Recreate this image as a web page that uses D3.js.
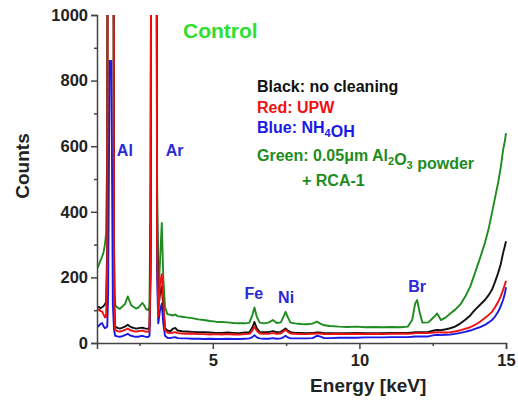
<!DOCTYPE html>
<html>
<head>
<meta charset="utf-8">
<script src="https://cdn.jsdelivr.net/npm/d3@7"></script>
<style>
  body { margin: 0; background: #fff; }
  svg text { font-family: "Liberation Sans", Arial, sans-serif; font-weight: bold; }
</style>
</head>
<body>
<svg width="518" height="406"></svg>
<script>
// energy axis (keV) shared by all spectra
var energy = [1.07, 1.12, 1.17, 1.22, 1.27, 1.32, 1.36, 1.40, 1.43, 1.48, 1.54, 1.59, 1.63, 1.67, 1.75, 1.83, 1.92, 2.00, 2.06, 2.10,
  2.15, 2.22, 2.30, 2.38, 2.46, 2.53, 2.60, 2.66, 2.72, 2.79, 2.84, 2.88, 2.92, 3.06, 3.10, 3.14, 3.20, 3.26, 3.31, 3.37,
  3.45, 3.55, 3.65, 3.72, 3.80, 3.95, 4.10, 4.30, 4.50, 4.70, 4.90, 5.10, 5.30, 5.50, 5.70, 5.90, 6.10, 6.25, 6.35, 6.42,
  6.50, 6.60, 6.75, 6.90, 7.05, 7.18, 7.32, 7.42, 7.48, 7.56, 7.65, 7.80, 8.00, 8.20, 8.40, 8.55, 8.65, 8.80, 9.00, 9.30,
  9.60, 9.90, 10.20, 10.50, 10.80, 11.10, 11.40, 11.65, 11.80, 11.90, 11.97, 12.05, 12.15, 12.35, 12.55, 12.65, 12.78, 12.95, 13.10, 13.26,
  13.45, 13.60, 13.78, 13.94, 14.10, 14.28, 14.40, 14.52, 14.62, 14.73, 14.82, 14.90, 14.96, 15.00];

var greenCounts = [229, 240, 252, 262, 275, 300, 335, 600, 3000, 3000, 3000, 3000, 300, 115, 108, 104, 112, 118, 132, 142,
  130, 115, 110, 105, 108, 115, 122, 115, 104, 100, 110, 500, 3000, 3000, 500, 140, 250, 366, 200, 110,
  88, 86, 84, 87, 82, 80, 78, 76, 72, 70, 67, 65, 64, 63, 61, 60, 60, 62, 85, 108,
  80, 62, 60, 62, 70, 61, 63, 82, 95, 78, 62, 60, 58, 57, 59, 65, 60, 54, 52, 50,
  49, 50, 48, 49, 48, 49, 48, 50, 70, 120, 131, 95, 62, 63, 80, 90, 70, 78, 90, 101,
  118, 140, 172, 213, 255, 305, 345, 396, 440, 488, 535, 588, 615, 640];

var blackCounts = [108, 110, 106, 109, 112, 118, 125, 300, 3000, 3000, 3000, 3000, 150, 50, 46, 44, 47, 50, 53, 56,
  52, 48, 46, 44, 45, 46, 47, 45, 44, 43, 48, 300, 3000, 3000, 400, 110, 150, 172, 110, 45,
  38, 36, 44, 46, 38, 36, 35, 34, 33, 33, 32, 31, 31, 32, 31, 30, 32, 33, 48, 64,
  45, 34, 33, 33, 36, 33, 34, 40, 44, 38, 33, 31, 31, 30, 31, 32, 32, 30, 30, 30,
  30, 31, 30, 30, 30, 31, 31, 31, 32, 33, 33, 33, 33, 34, 38, 40, 39, 42, 45, 50,
  60, 70, 84, 101, 115, 131, 145, 162, 185, 213, 240, 274, 295, 310];

var redCounts = [100, 102, 97, 96, 88, 78, 80, 250, 3000, 3000, 3000, 3000, 120, 40, 36, 35, 37, 40, 42, 44,
  41, 38, 36, 35, 36, 37, 38, 36, 35, 34, 38, 280, 3000, 3000, 300, 80, 180, 210, 130, 40,
  32, 30, 32, 33, 30, 29, 28, 29, 27, 27, 26, 27, 26, 27, 26, 26, 27, 28, 38, 50,
  37, 29, 28, 28, 30, 28, 29, 36, 40, 34, 29, 28, 27, 27, 28, 29, 29, 27, 27, 28,
  27, 28, 27, 28, 27, 28, 28, 28, 29, 30, 30, 30, 30, 30, 32, 33, 32, 32, 33, 35,
  39, 43, 48, 55, 64, 76, 85, 95, 108, 125, 142, 162, 178, 190];

var blueCounts = [50, 53, 58, 61, 52, 45, 47, 50, 150, 860, 860, 120, 40, 22, 20, 19, 21, 24, 26, 28,
  25, 22, 20, 19, 19, 21, 22, 20, 19, 18, 22, 200, 3000, 3000, 200, 60, 100, 120, 60, 22,
  16, 15, 17, 18, 15, 14, 14, 13, 13, 12, 13, 12, 12, 13, 12, 12, 13, 14, 18, 24,
  17, 14, 13, 13, 15, 13, 14, 18, 22, 17, 14, 14, 14, 14, 15, 22, 20, 15, 15, 16,
  16, 16, 17, 17, 17, 18, 18, 18, 19, 20, 20, 20, 20, 20, 24, 25, 24, 25, 26, 28,
  31, 34, 38, 43, 48, 55, 62, 70, 80, 95, 112, 131, 150, 170];

// drawing order: green at the bottom, red on top
var seriesNames = ["green", "blue", "black", "red"];
var seriesColors = ["#1e8c1e", "#1a1ae8", "#111111", "#ee1111"];
var seriesValues = [greenCounts, blueCounts, blackCounts, redCounts];

var xTicks = [5, 10, 15];
var xMinorTicks = [2.5, 7.5, 12.5];
var yTicks = [0, 200, 400, 600, 800, 1000];
var yMinorTicks = [100, 300, 500, 700, 900];

// peak annotations
var peakNames = ["Al", "Ar", "Fe", "Ni", "Br"];
var peakEnergy = [2.0, 3.7, 6.4, 7.5, 11.97];
var peakCounts = [570, 570, 135, 123, 157];

var legendLines = ["Black: no cleaning", "Red: UPW", "Blue: NH4OH", "Green: 0.05μm Al2O3 powder", "+ RCA-1"];

window.onload = function() {
    makeChart();
}

function makeChart() {
    var svg = d3.select("svg");

    var margin = { top: 15, right: 12, bottom: 63, left: 97 };
    var width = +svg.attr("width") - margin.left - margin.right;
    var height = +svg.attr("height") - margin.top - margin.bottom;

    var g = svg.append("g")
        .attr("transform", "translate(" + margin.left + "," + margin.top + ")");

    var x = d3.scaleLinear().domain([1.05, 15]).range([0, width]);
    var y = d3.scaleLinear().domain([0, 1000]).range([height, 0]);

    g.append("clipPath").attr("id", "plot-clip")
        .append("rect").attr("x", 0).attr("y", 0).attr("width", width + 2).attr("height", height);

    var line = d3.line()
        .x(function(d) { return x(d[0]); })
        .y(function(d) { return y(d[1]); });

    seriesValues.forEach(function(vals, i) {
        var pts = energy.map(function(e, j) { return [e, vals[j]]; });
        g.append("path")
            .datum(pts)
            .attr("class", "spectrum " + seriesNames[i])
            .attr("clip-path", "url(#plot-clip)")
            .attr("fill", "none")
            .attr("stroke", seriesColors[i])
            .attr("stroke-width", 1.9)
            .attr("stroke-linejoin", "round")
            .attr("d", line);
    });

    // axes
    var axisColor = "#444";
    g.append("g")
        .attr("transform", "translate(0," + height + ")")
        .call(d3.axisBottom(x).tickValues(xTicks).tickSize(6).tickPadding(5).tickFormat(d3.format("d")));
    g.append("g")
        .attr("transform", "translate(0," + height + ")")
        .call(d3.axisBottom(x).tickValues(xMinorTicks).tickSize(3).tickFormat(""))
        .select(".domain").remove();

    g.append("g")
        .call(d3.axisLeft(y).tickValues(yTicks).tickSize(6).tickPadding(3).tickFormat(d3.format("d")));
    g.append("g")
        .call(d3.axisLeft(y).tickValues(yMinorTicks).tickSize(3).tickFormat(""))
        .select(".domain").remove();

    g.selectAll(".domain, .tick line").attr("stroke", axisColor).attr("stroke-width", 1.5);
    g.selectAll(".tick text")
        .attr("fill", "#222")
        .style("font-size", "16.5px")
        .style("font-weight", "bold")
        .style("font-family", "'Liberation Sans', Arial, sans-serif");

    // axis titles
    svg.append("text")
        .attr("x", margin.left + x(10.3))
        .attr("y", 392)
        .attr("text-anchor", "middle")
        .attr("fill", "#222")
        .style("font-size", "19px")
        .text("Energy [keV]");

    svg.append("text")
        .attr("transform", "translate(29,166) rotate(-90)")
        .attr("text-anchor", "middle")
        .attr("fill", "#222")
        .style("font-size", "19px")
        .text("Counts");

    // title
    svg.append("text")
        .attr("x", 183)
        .attr("y", 38)
        .attr("fill", "#2ee02e")
        .style("font-size", "21px")
        .text("Control");

    // peak labels
    g.selectAll(".peak")
        .data(peakNames)
        .enter().append("text")
        .attr("class", "peak")
        .attr("x", function(d, i) { return x(peakEnergy[i]); })
        .attr("y", function(d, i) { return y(peakCounts[i]); })
        .attr("text-anchor", "middle")
        .attr("fill", "#2a2ad6")
        .style("font-size", "16px")
        .text(function(d) { return d; });

    // legend text with sub-scripts
    var legendColors = ["#111111", "#ee1111", "#1a1ae8", "#1e8c1e", "#1e8c1e"];
    var legendX = [257, 257, 257, 257, 302];
    var legendY = [92, 113, 133, 161, 186];
    legendLines.forEach(function(s, i) {
        var t = svg.append("text")
            .attr("x", legendX[i])
            .attr("y", legendY[i])
            .attr("fill", legendColors[i])
            .style("font-size", "16px");
        var parts = s.split(/(NH4|Al2|O3)/);
        parts.forEach(function(p) {
            if (p === "NH4" || p === "Al2" || p === "O3") {
                t.append("tspan").text(p.slice(0, -1));
                t.append("tspan").attr("dy", 4).style("font-size", "11px").text(p.slice(-1));
                t.append("tspan").attr("dy", -4).text("");
            } else if (p.length) {
                t.append("tspan").text(p);
            }
        });
    });
}
</script>
</body>
</html>
